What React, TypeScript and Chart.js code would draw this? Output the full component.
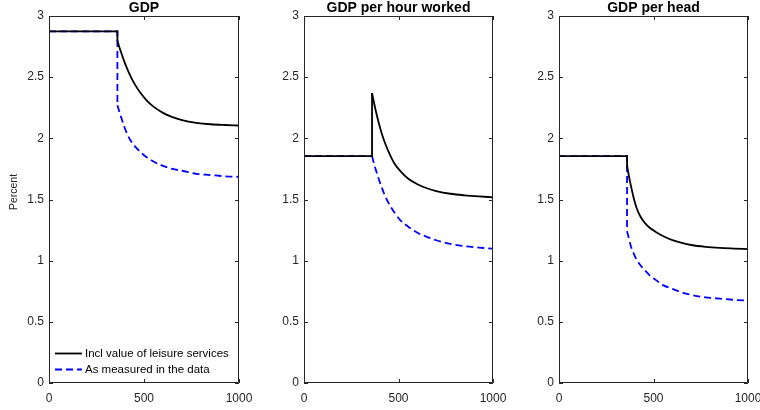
import React, { useEffect, useRef } from "react";
import { Chart, registerables } from "chart.js";
Chart.register(...registerables);

const periods = [0, 360, 360, 370, 380, 395, 410, 430, 455, 480, 510, 550, 600, 650, 700, 775, 850, 925, 1000];

const gdpLeisure = [2.875, 2.875, 2.8, 2.747, 2.7, 2.633, 2.574, 2.505, 2.433, 2.374, 2.317, 2.259, 2.208, 2.173, 2.149, 2.127, 2.115, 2.109, 2.105];
const gdpMeasured = [2.875, 2.875, 2.27, 2.22, 2.17, 2.1, 2.04, 1.98, 1.93, 1.89, 1.85, 1.81, 1.775, 1.75, 1.735, 1.71, 1.7, 1.69, 1.685];
const hourLeisure = [1.855, 1.855, 2.37, 2.295, 2.224, 2.13, 2.046, 1.956, 1.865, 1.79, 1.732, 1.672, 1.625, 1.592, 1.569, 1.547, 1.534, 1.525, 1.518];
const hourMeasured = [1.855, 1.855, 1.855, 1.795, 1.743, 1.67, 1.604, 1.525, 1.45, 1.39, 1.33, 1.28, 1.228, 1.195, 1.167, 1.137, 1.118, 1.107, 1.098];
const headLeisure = [1.855, 1.855, 1.78, 1.69, 1.615, 1.515, 1.433, 1.363, 1.307, 1.269, 1.237, 1.202, 1.168, 1.145, 1.128, 1.113, 1.104, 1.099, 1.095];
const headMeasured = [1.855, 1.855, 1.24, 1.18, 1.12, 1.06, 1.01, 0.965, 0.92, 0.88, 0.845, 0.8, 0.77, 0.74, 0.72, 0.7, 0.69, 0.68, 0.673];

const titles = ["GDP", "GDP per hour worked", "GDP per head"];
const seriesNames = ["Incl value of leisure services", "As measured in the data"];
const yAxisLabel = "Percent";

const FONT = "'Liberation Sans', Arial, Helvetica, sans-serif";
const AXIS_COLOR = "#262626";
const BREAK_INDEX = 2; // index where the post-break curve starts

const toPoints = (ys: number[], from: number, to: number) =>
  ys.slice(from, to).map((y, i) => ({ x: periods[from + i], y }));

const seriesStyles = [
  { color: "#000000", dash: [] as number[] },
  { color: "#0000FF", dash: [7, 4] },
];

const framePlugin = {
  id: "matlabFrame",
  afterDatasetsDraw(chart: any, _args: any, opts: any) {
    const { ctx, chartArea: a, scales } = chart;
    ctx.save();
    ctx.strokeStyle = AXIS_COLOR;
    ctx.lineWidth = 1;
    ctx.beginPath();
    ctx.rect(a.left + 0.5, a.top + 0.5, a.right - a.left - 1, a.bottom - a.top - 1);
    ctx.stroke();
    const tl = 4;
    ctx.beginPath();
    scales.x.ticks.forEach((t: any) => {
      const px = Math.round(scales.x.getPixelForValue(t.value)) + 0.5;
      ctx.moveTo(px, a.bottom);
      ctx.lineTo(px, a.bottom - tl);
      ctx.moveTo(px, a.top);
      ctx.lineTo(px, a.top + tl);
    });
    scales.y.ticks.forEach((t: any) => {
      const py = Math.round(scales.y.getPixelForValue(t.value)) + 0.5;
      ctx.moveTo(a.left, py);
      ctx.lineTo(a.left + tl, py);
      ctx.moveTo(a.right, py);
      ctx.lineTo(a.right - tl, py);
    });
    ctx.stroke();

    // title
    ctx.fillStyle = "#000";
    ctx.font = `bold 14px ${FONT}`;
    ctx.textAlign = "center";
    ctx.textBaseline = "alphabetic";
    ctx.fillText(opts.title, (a.left + a.right) / 2, 12);

    // y label
    if (opts.yLabel) {
      ctx.save();
      ctx.translate(14, 192);
      ctx.rotate(-Math.PI / 2);
      ctx.font = `10.5px ${FONT}`;
      ctx.fillStyle = AXIS_COLOR;
      ctx.textAlign = "center";
      ctx.textBaseline = "middle";
      ctx.fillText(opts.yLabel, 0, 0);
      ctx.restore();
    }

    // legend
    if (opts.legend) {
      const rows = [353, 369];
      seriesNames.forEach((name: string, i: number) => {
        const st = seriesStyles[i];
        const y = rows[i] + 0.5;
        ctx.save();
        ctx.strokeStyle = st.color;
        ctx.lineWidth = 1.8;
        ctx.setLineDash(st.dash);
        ctx.beginPath();
        ctx.moveTo(a.left + 6, y);
        ctx.lineTo(a.left + 33, y);
        ctx.stroke();
        ctx.restore();
        ctx.fillStyle = "#000";
        ctx.font = `11.5px ${FONT}`;
        ctx.textAlign = "left";
        ctx.textBaseline = "middle";
        ctx.fillText(name, a.left + 36, y);
      });
    }
    ctx.restore();
  },
};

type PanelProps = {
  title: string;
  leisure: number[];
  measured: number[];
  left: number;
  width: number;
  padRight: number;
  legend?: boolean;
  yLabel?: string;
};

function makeDatasets(values: number[], idx: number) {
  const st = seriesStyles[idx];
  const base = {
    showLine: true,
    borderColor: st.color,
    borderWidth: 1.8,
    borderDash: st.dash,
    pointRadius: 0,
  };
  return [
    { ...base, label: seriesNames[idx], data: toPoints(values, 0, BREAK_INDEX + 1), tension: 0 },
    {
      ...base,
      label: seriesNames[idx],
      data: toPoints(values, BREAK_INDEX, values.length),
      cubicInterpolationMode: "monotone" as const,
    },
  ];
}

function Panel({ title, leisure, measured, left, width, padRight, legend, yLabel }: PanelProps) {
  const ref = useRef<HTMLCanvasElement>(null);
  useEffect(() => {
    if (!ref.current) return;
    const tickFont = { family: FONT, size: 12 };
    const chart = new Chart(ref.current, {
      type: "scatter",
      data: {
        datasets: [...makeDatasets(leisure, 0), ...makeDatasets(measured, 1)] as any,
      },
      options: {
        animation: false,
        responsive: false,
        maintainAspectRatio: false,
        devicePixelRatio: 1,
        layout: { padding: { left: 0, right: padRight, top: 16, bottom: 0 } },
        plugins: {
          legend: { display: false },
          tooltip: { enabled: false },
          title: { display: false },
          matlabFrame: { title, legend: !!legend, yLabel: yLabel || "" },
        } as any,
        scales: {
          x: {
            type: "linear",
            min: 0,
            max: 1000,
            grid: { display: false, drawTicks: false },
            border: { display: false },
            ticks: {
              stepSize: 500,
              font: tickFont,
              color: AXIS_COLOR,
              padding: 8,
              maxRotation: 0,
              callback: (v: any) => String(v),
            },
            afterFit: (s: any) => {
              s.height = 27;
              s.paddingLeft = 0;
              s.paddingRight = 0;
            },
          },
          y: {
            type: "linear",
            min: 0,
            max: 3,
            grid: { display: false, drawTicks: false },
            border: { display: false },
            ticks: {
              stepSize: 0.5,
              font: tickFont,
              color: AXIS_COLOR,
              padding: 5,
              callback: (v: any) => String(v),
            },
            afterFit: (s: any) => {
              s.width = 49;
              s.paddingTop = 0;
              s.paddingBottom = 0;
            },
          },
        },
      },
      plugins: [framePlugin],
    });
    return () => chart.destroy();
  }, []);
  return (
    <canvas
      ref={ref}
      width={width}
      height={410}
      style={{ position: "absolute", left, top: 0, width, height: 410 }}
    />
  );
}

export default function App() {
  return (
    <div style={{ position: "absolute", left: 0, top: 0, width: 760, height: 410, background: "#fff" }}>
      <Panel title={titles[0]} leisure={gdpLeisure} measured={gdpMeasured} left={0} width={253} padRight={14} legend yLabel={yAxisLabel} />
      <Panel title={titles[1]} leisure={hourLeisure} measured={hourMeasured} left={255} width={253} padRight={15} />
      <Panel title={titles[2]} leisure={headLeisure} measured={headMeasured} left={510} width={250} padRight={12} />
    </div>
  );
}
